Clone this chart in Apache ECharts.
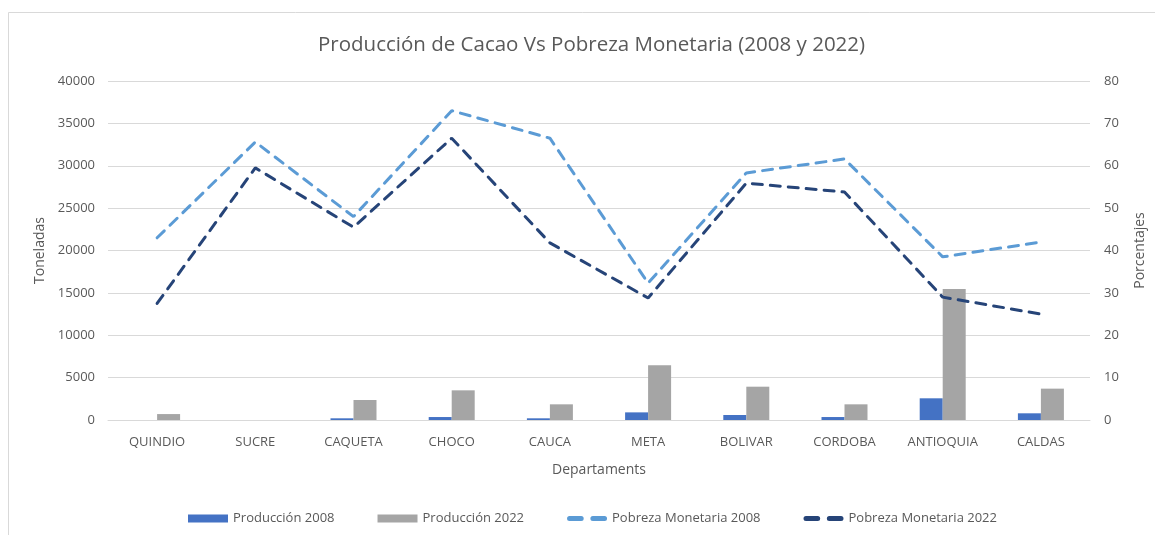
<!DOCTYPE html>
<html>
<head>
<meta charset="utf-8">
<script src="https://cdn.jsdelivr.net/npm/echarts@6/dist/echarts.min.js"></script>
<style>
    html, body { margin: 0; padding: 0; background: #fff; }
    #main { width: 1155px; height: 535px; }
</style>
</head>
<body>
<div id="main"></div>
<script>
// 数据
var departamentos = ['QUINDIO', 'SUCRE', 'CAQUETA', 'CHOCO', 'CAUCA', 'META', 'BOLIVAR', 'CORDOBA', 'ANTIOQUIA', 'CALDAS']
var produccion2008 = [0, 0, 200, 350, 200, 900, 590, 350, 2560, 790]
var produccion2022 = [700, 0, 2360, 3500, 1850, 6450, 3930, 1850, 15450, 3700]
var pobreza2008 = [43, 65.6, 48, 73, 66.5, 32.3, 58.3, 61.6, 38.5, 42]
var pobreza2022 = [27.5, 59.5, 45.5, 66.5, 41.8, 28.8, 55.9, 53.8, 29, 25]

var fontFam = 'Open Sans'
var textColor = '#595959'
var dashIcon = 'path://M1.5,0h7a1.5,1.5 0 0 1 0,3h-7a1.5,1.5 0 0 1 0,-3z M15.5,0h7a1.5,1.5 0 0 1 0,3h-7a1.5,1.5 0 0 1 0,-3z'

var myChart = echarts.init(document.getElementById('main'))

var option = {
    backgroundColor: '#fff',
    title: {
        text: 'Producción de Cacao Vs Pobreza Monetaria (2008 y 2022)',
        left: 313,
        top: 30,
        textStyle: {
            fontFamily: fontFam,
            fontSize: 20.5,
            fontWeight: 'normal',
            color: textColor
        }
    },
    graphic: [
        {
            type: 'rect',
            shape: { x: 8.5, y: 12.5, width: 1160, height: 540 },
            style: { fill: 'none', stroke: '#d9d9d9', lineWidth: 1 },
            silent: true
        }
    ],
    legend: {
        bottom: 5,
        left: 183,
        itemGap: 43,
        itemWidth: 40,
        itemHeight: 8,
        textStyle: {
            fontFamily: fontFam,
            fontSize: 13,
            color: textColor
        },
        data: [
            { name: 'Producción 2008', icon: 'rect' },
            { name: 'Producción 2022', icon: 'rect' },
            { name: 'Pobreza Monetaria 2008', icon: dashIcon },
            { name: 'Pobreza Monetaria 2022', icon: dashIcon }
        ]
    },
    grid: {
        left: 108,
        right: 64,
        top: 81,
        bottom: 115
    },
    xAxis: {
        type: 'category',
        data: departamentos,
        name: 'Departaments',
        nameLocation: 'middle',
        nameGap: 43,
        nameTextStyle: {
            fontFamily: fontFam,
            fontSize: 14,
            color: textColor
        },
        axisLine: { lineStyle: { color: '#d9d9d9' } },
        axisTick: { show: false },
        axisLabel: {
            margin: 16,
            fontFamily: fontFam,
            fontSize: 13,
            color: textColor
        }
    },
    yAxis: [
        {
            type: 'value',
            min: 0,
            max: 40000,
            interval: 5000,
            name: 'Toneladas',
            nameLocation: 'middle',
            nameRotate: 90,
            nameGap: 59,
            nameTextStyle: {
                fontFamily: fontFam,
                fontSize: 14,
                color: textColor
            },
            axisLine: { show: false },
            axisTick: { show: false },
            axisLabel: {
                margin: 13,
                fontFamily: fontFam,
                fontSize: 13,
                color: textColor,
                formatter: function (v) { return String(v) }
            },
            splitLine: {
                lineStyle: { color: '#d9d9d9', width: 1 }
            }
        },
        {
            type: 'value',
            min: 0,
            max: 80,
            interval: 10,
            name: 'Porcentajes',
            nameLocation: 'middle',
            nameRotate: 90,
            nameGap: 43,
            nameTextStyle: {
                fontFamily: fontFam,
                fontSize: 14,
                color: textColor
            },
            axisLine: { show: false },
            axisTick: { show: false },
            axisLabel: {
                margin: 14,
                fontFamily: fontFam,
                fontSize: 13,
                color: textColor
            },
            splitLine: { show: false }
        }
    ],
    series: [
        {
            name: 'Producción 2008',
            type: 'bar',
            yAxisIndex: 0,
            data: produccion2008,
            barWidth: 23,
            barGap: '0%',
            itemStyle: { color: '#4472C4' }
        },
        {
            name: 'Producción 2022',
            type: 'bar',
            yAxisIndex: 0,
            data: produccion2022,
            barWidth: 23,
            barGap: '0%',
            itemStyle: { color: '#A5A5A5' }
        },
        {
            name: 'Pobreza Monetaria 2008',
            type: 'line',
            yAxisIndex: 1,
            data: pobreza2008,
            symbol: 'none',
            lineStyle: {
                color: '#5B9BD5',
                width: 3,
                type: [10, 8],
                cap: 'round'
            },
            itemStyle: { color: '#5B9BD5' }
        },
        {
            name: 'Pobreza Monetaria 2022',
            type: 'line',
            yAxisIndex: 1,
            data: pobreza2022,
            symbol: 'none',
            lineStyle: {
                color: '#264478',
                width: 3,
                type: [10, 8],
                cap: 'round'
            },
            itemStyle: { color: '#264478' }
        }
    ]
}
myChart.setOption(option)
</script>
</body>
</html>
